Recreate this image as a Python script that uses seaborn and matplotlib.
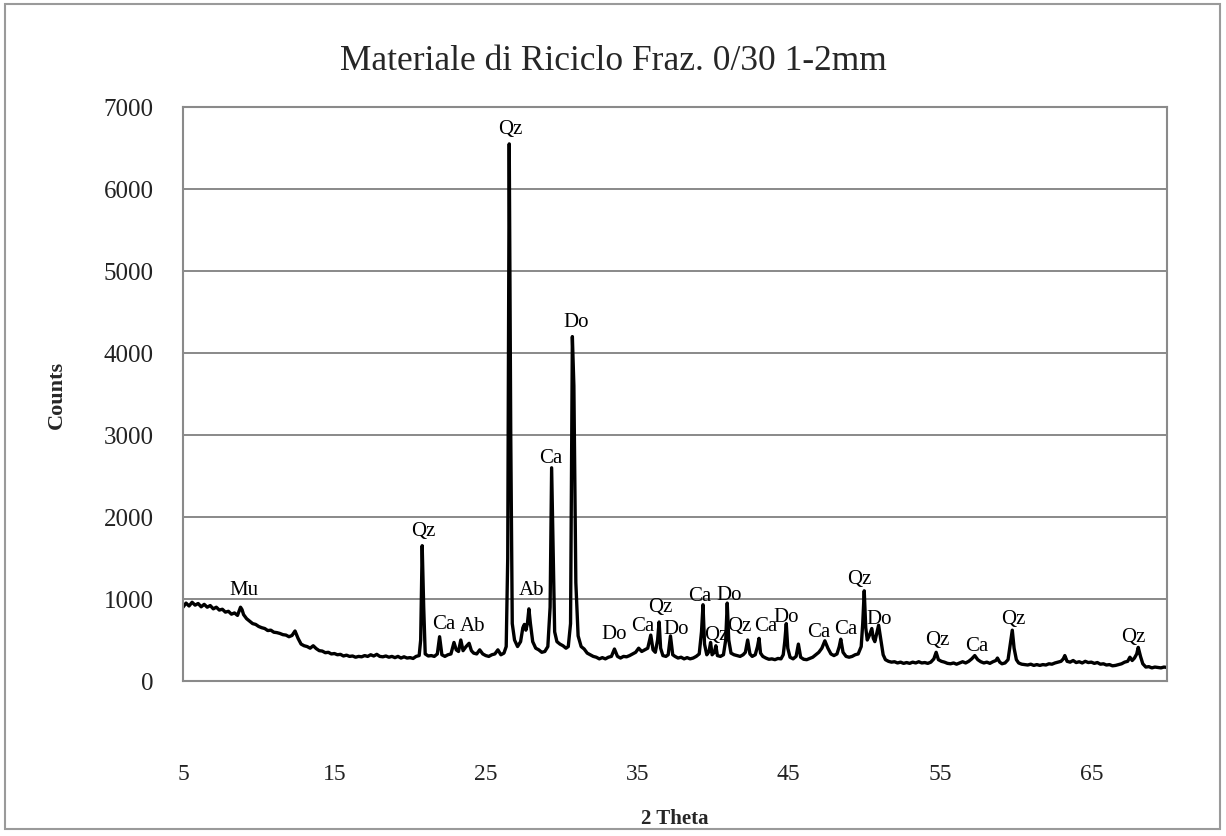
import matplotlib
matplotlib.use("Agg")
import matplotlib.pyplot as plt
import seaborn as sns
import pandas as pd
from matplotlib.patches import Rectangle

# ---------------- data ----------------
title = "Materiale di Riciclo Fraz. 0/30 1-2mm"
x_label = "2 Theta"
y_label = "Counts"
x_ticks = [5, 15, 25, 35, 45, 55, 65]
y_ticks = [0, 1000, 2000, 3000, 4000, 5000, 6000, 7000]

# (2theta, counts) pairs, region by region
region_5_20 = [
    (5.0, 900), (5.2, 950), (5.4, 915), (5.6, 960), (5.8, 925), (6.0, 945),
    (6.2, 905), (6.4, 935), (6.6, 900), (6.8, 920), (7.0, 880), (7.2, 900),
    (7.4, 865), (7.6, 875), (7.8, 840), (8.0, 850), (8.2, 815), (8.4, 830),
    (8.6, 800), (8.8, 900), (8.9, 870), (9.0, 810), (9.2, 760), (9.4, 730),
    (9.6, 700), (9.8, 690), (10.0, 665), (10.2, 650), (10.4, 640), (10.6, 615),
    (10.8, 620), (11.0, 595), (11.2, 590), (11.4, 580), (11.6, 565), (11.8, 560),
    (12.0, 540), (12.2, 555), (12.4, 610), (12.6, 520), (12.8, 450), (13.0, 430),
    (13.2, 420), (13.4, 400), (13.6, 430), (13.8, 395), (14.0, 370), (14.2, 365),
    (14.4, 345), (14.6, 350), (14.8, 330), (15.0, 335), (15.2, 320), (15.4, 325),
    (15.6, 305), (15.8, 315), (16.0, 300), (16.2, 305), (16.4, 290), (16.6, 300),
    (16.8, 295), (17.0, 310), (17.2, 300), (17.4, 320), (17.6, 305), (17.8, 325),
    (18.0, 300), (18.2, 295), (18.4, 305), (18.6, 290), (18.8, 300), (19.0, 285),
    (19.2, 300), (19.4, 280), (19.6, 295), (19.8, 280), (20.0, 285), (20.2, 275),
    (20.4, 300), (20.6, 310),
]
region_20_32 = [
    (20.7, 500), (20.8, 1650), (20.9, 900), (21.0, 330), (21.2, 305), (21.4, 310),
    (21.6, 300), (21.8, 330), (21.95, 540), (22.1, 320), (22.3, 300), (22.5, 320),
    (22.7, 330), (22.9, 470), (23.05, 380), (23.2, 360), (23.35, 500), (23.5, 370),
    (23.7, 420), (23.9, 460), (24.05, 370), (24.2, 340), (24.4, 330), (24.6, 380),
    (24.8, 330), (25.0, 310), (25.2, 300), (25.4, 320), (25.6, 330), (25.8, 380),
    (26.0, 320), (26.2, 340), (26.35, 420), (26.45, 1500), (26.55, 6550),
    (26.65, 3000), (26.75, 700), (26.9, 500), (27.1, 420), (27.3, 480),
    (27.45, 650), (27.55, 690), (27.65, 620), (27.75, 700), (27.85, 880),
    (27.95, 700), (28.1, 480), (28.3, 400), (28.5, 380), (28.7, 350), (28.9, 360),
    (29.1, 420), (29.25, 900), (29.35, 2600), (29.45, 1600), (29.55, 600),
    (29.7, 480), (29.9, 450), (30.1, 430), (30.3, 400), (30.45, 420), (30.6, 700),
    (30.72, 4200), (30.82, 3600), (30.95, 1200), (31.1, 550), (31.3, 420),
    (31.5, 390), (31.7, 340), (31.9, 320),
]
region_32_52 = [
    (32.1, 300), (32.3, 290), (32.5, 270), (32.7, 285), (32.9, 270), (33.1, 290),
    (33.3, 300), (33.5, 390), (33.7, 300), (33.9, 280), (34.1, 300), (34.3, 295),
    (34.5, 310), (34.7, 330), (34.9, 350), (35.1, 400), (35.3, 360), (35.5, 380),
    (35.7, 400), (35.9, 560), (36.05, 380), (36.2, 350), (36.35, 500), (36.45, 720),
    (36.55, 400), (36.7, 310), (36.9, 300), (37.05, 320), (37.2, 550), (37.35, 320),
    (37.5, 300), (37.7, 280), (37.9, 290), (38.1, 270), (38.3, 285), (38.5, 270),
    (38.7, 280), (38.9, 300), (39.1, 330), (39.25, 600), (39.35, 930), (39.45, 450),
    (39.6, 320), (39.75, 360), (39.85, 470), (39.95, 320), (40.1, 350), (40.2, 430),
    (40.3, 310), (40.5, 300), (40.7, 320), (40.85, 500), (40.95, 950), (41.05, 500),
    (41.2, 340), (41.4, 320), (41.6, 310), (41.8, 300), (42.0, 320), (42.15, 350),
    (42.3, 500), (42.45, 330), (42.6, 300), (42.8, 320), (42.95, 420), (43.05, 520),
    (43.15, 340), (43.3, 300), (43.5, 280), (43.7, 265), (43.9, 270), (44.1, 260),
    (44.3, 275), (44.5, 270), (44.65, 320), (44.75, 480), (44.85, 700), (44.95, 400),
    (45.1, 290), (45.3, 270), (45.5, 300), (45.65, 450), (45.8, 290), (46.0, 265),
    (46.2, 260), (46.4, 275), (46.6, 290), (46.8, 320), (47.0, 350), (47.2, 400),
    (47.4, 490), (47.6, 400), (47.8, 330), (48.0, 310), (48.2, 330), (48.35, 420),
    (48.45, 510), (48.6, 350), (48.8, 300), (49.0, 290), (49.2, 300), (49.4, 320),
    (49.6, 330), (49.8, 420), (49.9, 700), (50.0, 1100), (50.1, 650), (50.2, 500),
    (50.35, 560), (50.5, 640), (50.6, 520), (50.7, 480), (50.85, 600), (50.95, 680),
    (51.1, 500), (51.25, 320), (51.4, 260), (51.6, 240), (51.8, 230),
]
region_52_70 = [
    (52.0, 235), (52.2, 220), (52.4, 230), (52.6, 215), (52.8, 225), (53.0, 215),
    (53.2, 230), (53.4, 220), (53.6, 235), (53.8, 220), (54.0, 225), (54.2, 215),
    (54.4, 230), (54.6, 270), (54.75, 350), (54.9, 260), (55.1, 240), (55.3, 230),
    (55.5, 215), (55.7, 210), (55.9, 220), (56.1, 205), (56.3, 220), (56.5, 235),
    (56.7, 220), (56.9, 240), (57.1, 270), (57.3, 310), (57.5, 260), (57.7, 235),
    (57.9, 220), (58.1, 230), (58.3, 215), (58.5, 235), (58.7, 250), (58.8, 280),
    (58.95, 230), (59.1, 210), (59.3, 220), (59.5, 260), (59.65, 450), (59.78, 620),
    (59.9, 400), (60.05, 260), (60.2, 220), (60.4, 205), (60.6, 200), (60.8, 195),
    (61.0, 205), (61.2, 190), (61.4, 200), (61.6, 190), (61.8, 200), (62.0, 195),
    (62.2, 210), (62.4, 205), (62.6, 220), (62.8, 230), (63.0, 240), (63.15, 270),
    (63.25, 310), (63.4, 240), (63.6, 230), (63.8, 250), (64.0, 225), (64.2, 235),
    (64.4, 220), (64.6, 240), (64.8, 225), (65.0, 230), (65.2, 215), (65.4, 225),
    (65.6, 205), (65.8, 210), (66.0, 195), (66.2, 200), (66.4, 185), (66.6, 190),
    (66.8, 200), (67.0, 210), (67.2, 230), (67.4, 240), (67.55, 290), (67.7, 250),
    (67.85, 280), (68.0, 330), (68.1, 410), (68.25, 300), (68.4, 210), (68.6, 170),
    (68.8, 175), (69.0, 160), (69.2, 170), (69.4, 165), (69.6, 160), (69.8, 170),
    (70.0, 165),
]

# phase labels: text, 2theta, counts (label centre)
phase_names = ["Mu", "Qz", "Ca", "Ab", "Qz", "Ab", "Ca", "Do", "Do", "Ca", "Qz",
               "Do", "Ca", "Qz", "Do", "Qz", "Ca", "Do", "Ca", "Ca", "Qz", "Do",
               "Qz", "Ca", "Qz", "Qz"]
phase_theta = [9.0, 20.9, 22.2, 24.1, 26.6, 28.0, 29.3, 31.0, 33.5, 35.4, 36.5,
               37.6, 39.15, 40.2, 41.05, 41.75, 43.5, 44.85, 47.0, 48.8, 49.7,
               51.0, 54.85, 57.4, 59.85, 67.8]
phase_counts = [1120, 1830, 705, 680, 6740, 1120, 2730, 4390, 575, 680, 912,
                637, 1046, 564, 1051, 671, 671, 784, 600, 641, 1254,
                765, 512, 427, 764, 540]

# ---------------- build frame ----------------
pairs = region_5_20 + region_20_32 + region_32_52 + region_52_70
df = pd.DataFrame(pairs, columns=["two_theta", "counts"])

sns.set_style("white")
plt.rcParams["font.family"] = ["Liberation Serif", "DejaVu Serif"]

W, H = 1226, 837
fig = plt.figure(figsize=(W / 100, H / 100), dpi=100)
ax = fig.add_axes([183 / W, 1 - 682 / H, (1167 - 183) / W, (682 - 108) / H])

sns.lineplot(data=df, x="two_theta", y="counts", ax=ax, color="black",
             lw=2.4, sort=False)

ax.set_xlim(5, 70)
ax.set_ylim(0, 7000)
ax.set_xticks(x_ticks)
ax.set_yticks(y_ticks)
ax.set_xticklabels([str(t) for t in x_ticks])
ax.set_yticklabels([str(t) for t in y_ticks])
ax.tick_params(axis="both", length=0, colors="#222222")
ax.tick_params(axis="y", pad=21, labelsize=18)
ax.tick_params(axis="x", pad=59, labelsize=17)

ax.grid(axis="y", color="#808080", lw=1.3)
ax.grid(axis="x", visible=False)
ax.set_axisbelow(True)
for s in ax.spines.values():
    s.set_visible(True)
    s.set_color("#8a8a8a")
    s.set_linewidth(1.5)

ax.set_xlabel(x_label, fontsize=15, fontweight="bold")
ax.set_ylabel(y_label, fontsize=16, fontweight="bold")
ax.xaxis.set_label_coords(0.5, -0.222)
ax.yaxis.set_label_coords(-0.118, 0.5)

for name, tx, ty in zip(phase_names, phase_theta, phase_counts):
    ax.text(tx, ty, name, ha="center", va="center", fontsize=15, color="black")

fig.text(0.5, 1 - 62 / H, title, ha="center", va="center", fontsize=25.5)

fig.patches.append(Rectangle((5 / W, 1 - 830 / H), (1220 - 5) / W, (830 - 5) / H,
                             transform=fig.transFigure, fill=False,
                             edgecolor="#9a9a9a", lw=1.5))

fig.savefig("out.png", dpi=100, facecolor="white")
